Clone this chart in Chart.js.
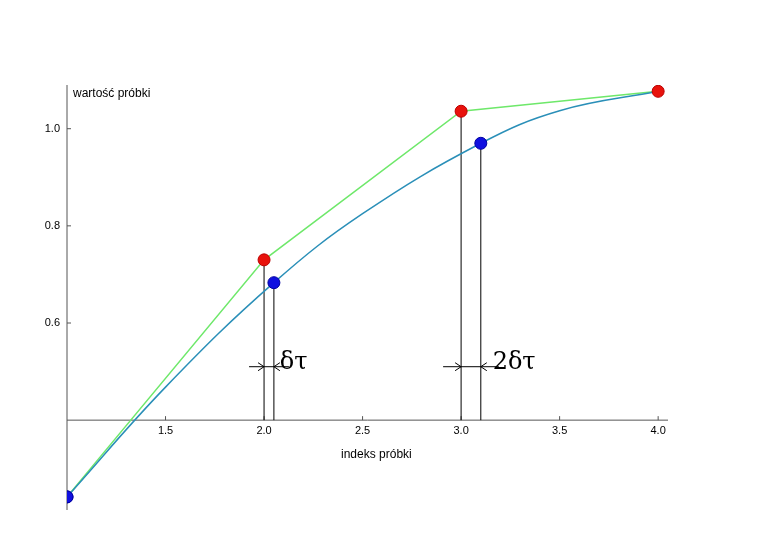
<!DOCTYPE html>
<html><head><meta charset="utf-8">
<script src="https://cdn.jsdelivr.net/npm/chart.js@4/dist/chart.umd.min.js"></script>
<style>html,body{margin:0;background:#fff}#w{width:761px;height:535px}</style>
</head><body><div id="w"><canvas id="c"></canvas></div>
<script>
const redX=[2,3,4], redY=[0.730,1.036,1.077];
const greenX=[1,2,3,4], greenY=[0.242,0.730,1.036,1.077];
const blueX=[1,2.05,3.1], blueY=[0.242,0.683,0.970];
const curveX=[1,1.5,2.05,2.5,3.1,3.5,4], curveY=[0.242,0.468,0.683,0.825,0.970,1.037,1.077];
const xTicks=[1.5,2.0,2.5,3.0,3.5,4.0], yTicks=[0.6,0.8,1.0];
const xAxisY=0.4;
const pts=(xs,ys)=>xs.map((x,i)=>({x,y:ys[i]}));
const overlay={id:'ov',beforeDatasetsDraw(ch){
 const c=ch.ctx,xs=ch.scales.x,ys=ch.scales.y,a=ch.chartArea;
 const X=v=>xs.getPixelForValue(v),Y=v=>ys.getPixelForValue(v);
 c.save();c.strokeStyle='#555';c.lineWidth=1;c.fillStyle='#000';
 c.beginPath();c.moveTo(X(1),a.top);c.lineTo(X(1),a.bottom);
 c.moveTo(a.left,Y(xAxisY));c.lineTo(a.right,Y(xAxisY));c.stroke();
 c.font='11px "Liberation Sans",Arial';c.textAlign='center';c.textBaseline='top';
 xTicks.forEach(t=>{c.beginPath();c.moveTo(X(t),Y(xAxisY));c.lineTo(X(t),Y(xAxisY)-4);c.stroke();c.fillText(t.toFixed(1),X(t),Y(xAxisY)+5);});
 c.textAlign='right';c.textBaseline='middle';
 yTicks.forEach(t=>{c.beginPath();c.moveTo(X(1),Y(t));c.lineTo(X(1)+4,Y(t));c.stroke();c.fillText(t.toFixed(1),X(1)-7,Y(t));});
 c.font='12px "Liberation Sans",Arial';c.textAlign='left';c.textBaseline='alphabetic';
 c.fillText('wartość próbki',X(1)+6,a.top+12);
 c.textAlign='center';c.fillText('indeks próbki',X(2.57),Y(xAxisY)+38);
 c.strokeStyle='#000';
 const v=[[2,0.730],[2.05,0.683],[3,1.036],[3.1,0.970]];
 v.forEach(([x,y])=>{c.beginPath();c.moveTo(X(x),Y(y));c.lineTo(X(x),Y(xAxisY));c.stroke();});
 const dim=(x1,x2,yv,ext)=>{const y=Y(yv);c.beginPath();c.moveTo(X(x1)-ext,y);c.lineTo(X(x2)+ext,y);c.stroke();
  [[X(x1),-1],[X(x2),1]].forEach(([px,d])=>{c.beginPath();c.moveTo(px+d*6,y-4);c.lineTo(px,y);c.lineTo(px+d*6,y+4);c.stroke();});};
 dim(2,2.05,0.51,15);dim(3,3.1,0.51,18);
 c.font='24px "DejaVu Serif",serif';c.textAlign='left';c.textBaseline='alphabetic';
 c.fillText('δτ',X(2.08),Y(0.51)+2);c.fillText('2δτ',X(3.16),Y(0.51)+2);
 c.restore();}};
new Chart(document.getElementById('c'),{type:'scatter',
 data:{datasets:[
  {data:pts(redX,redY),backgroundColor:'#e8120c',borderColor:'#b00',borderWidth:1,pointRadius:6,order:0},
  {data:pts(blueX.concat([1]),blueY.concat([0.242])),backgroundColor:'#1010e0',borderColor:'#0000a0',borderWidth:1,pointRadius:6,order:0},
  {data:pts(greenX,greenY),showLine:true,borderColor:'#6ee86a',borderWidth:1.5,pointRadius:0,order:2},
  {data:pts(curveX,curveY),showLine:true,tension:0.4,borderColor:'#2a8fb8',borderWidth:1.5,pointRadius:0,order:1}]},
 options:{responsive:true,maintainAspectRatio:false,animation:false,
  layout:{padding:{left:67,right:93,top:85,bottom:25}},
  plugins:{legend:{display:false},tooltip:{enabled:false}},
  scales:{x:{type:'linear',min:1,max:4.05,display:false},y:{min:0.215,max:1.09,display:false}}},
 plugins:[overlay]});
</script></body></html>
